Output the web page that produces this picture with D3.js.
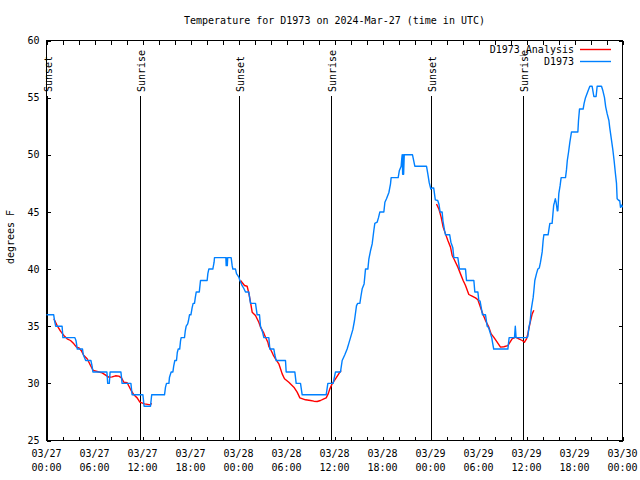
<!DOCTYPE html>
<html><head><meta charset="utf-8">
<script src="https://cdn.jsdelivr.net/npm/d3@7"></script>
<style>
body{margin:0;background:#fff}
svg{display:block}
text{font-family:"DejaVu Sans Mono","Liberation Mono",monospace;font-size:10px;fill:#000}
</style>
</head><body><svg id="c" width="640" height="480"></svg>
<script>
// ---- data (hours since 2024-03-27 00:00 UTC, degrees F) ----
const stationSeries = [
[0,36],[0.9,36],[1.0,35.5],[1.15,35],[1.95,35],[2.05,34],[3.55,34],[3.7,33.7],[3.85,33],[4.5,33],[4.6,32.5],[4.9,32],[5.55,32],[5.7,31.5],[5.8,31],[7.55,31],[7.65,30],[7.85,30],[7.95,31],[9.3,31],[9.45,30],[10.55,30],[10.7,29],[12.05,29],[12.2,28],[13.0,28],[13.15,29],[14.75,29],[14.875,29.67],[15.0,30],[15.3,30],[15.375,30.54],[15.58,31],[15.8,31],[15.9,31.5],[16.04,32],[16.25,32],[16.35,32.7],[16.46,33],[16.65,33],[16.75,33.7],[16.83,34],[17.25,34],[17.35,34.6],[17.46,35],[17.65,35.2],[17.75,35.5],[17.875,36],[18.05,36],[18.2,36.6],[18.33,37],[18.5,37],[18.6,37.5],[18.72,38],[19.1,38],[19.25,39],[20.08,39],[20.17,39.6],[20.29,40],[20.79,40],[20.95,40.6],[21.0,41],[22.25,41],[22.42,41],[22.46,40.3],[22.5,40.3],[22.54,41],[22.6,40.3],[22.65,41],[23.08,41],[23.21,40.3],[23.29,40],[23.625,40],[23.75,39.6],[24.04,39.3],[24.17,39],[24.3,38.8],[24.42,38.6],[24.67,38.3],[24.875,38],[25.29,38],[25.5,37],[26.125,37],[26.33,36],[26.625,36],[26.75,35],[27.0,34.5],[27.17,34],[27.79,34],[27.92,33],[28.42,33],[28.54,32.5],[28.71,32],[29.875,32],[29.96,31],[31.04,31],[31.21,30],[31.75,30],[31.96,29],[34.96,29],[35.17,30],[35.83,30],[36.125,31],[36.75,31],[36.96,32],[37.29,32.5],[37.58,33],[37.79,33.5],[38.0,34],[38.29,34.7],[38.5,35.5],[38.75,36.8],[38.9,37],[39.17,37],[39.3,37.6],[39.46,38.27],[39.7,38.7],[39.875,40],[40.17,40],[40.3,40.9],[40.5,41.6],[40.71,42.2],[40.92,43.4],[41.04,44],[41.33,44.1],[41.5,44.5],[41.67,45],[42.17,45],[42.3,45.85],[42.5,46.15],[42.8,46.7],[43.0,47.46],[43.08,48],[43.96,48],[44.1,48.6],[44.33,49],[44.4,49.6],[44.46,50],[44.52,48.3],[44.58,50],[44.64,48.3],[44.72,50],[45.75,50],[46.04,49],[47.5,49],[47.67,48.3],[47.83,47.6],[48.04,47],[48.2,47.1],[48.4,47.1],[48.6,46.06],[48.9,46],[49.05,45.7],[49.2,45],[49.45,45],[49.55,44.25],[49.75,43.4],[49.875,43],[50.4,43],[50.55,42.35],[50.79,41.86],[50.92,41],[51.42,41],[51.625,40],[52.375,40],[52.5,39],[53.42,39],[53.54,38],[53.92,38],[54.04,37.25],[54.2,37.2],[54.5,36],[54.875,36],[55.08,35],[55.25,34.9],[55.5,34.33],[55.65,34],[55.9,33],[57.67,33],[57.83,34],[58.5,34],[58.6,35],[58.7,34],[60.08,34],[60.17,34.1],[60.3,34.9],[60.45,35.35],[60.58,36.4],[60.83,37.5],[60.92,38.1],[61.04,39],[61.25,39.6],[61.42,40],[61.6,40.1],[61.75,40.6],[61.96,41.5],[62.08,42.5],[62.17,43],[62.7,43],[62.85,43.7],[62.92,44],[63.2,44],[63.3,44.8],[63.4,45.6],[63.5,45.85],[63.6,46.15],[63.7,45.85],[63.85,45.1],[63.92,45.1],[64.04,46.6],[64.2,47.3],[64.33,48],[64.875,48],[65.0,48.7],[65.1,49.5],[65.25,50.2],[65.42,51.1],[65.625,52],[66.42,52],[66.5,53],[66.625,54],[67.08,54],[67.2,54.5],[67.375,55],[67.7,55.6],[67.92,56],[68.2,56],[68.42,55.1],[68.7,55.1],[68.83,56],[69.375,56],[69.55,55.6],[69.75,55],[69.9,54.2],[70.08,53.6],[70.3,53],[70.4,52.4],[70.58,51.5],[70.8,50.4],[70.95,49.5],[71.125,48.3],[71.25,47.5],[71.33,46.15],[71.54,46],[71.65,46],[71.75,45.4],[71.9,45.6],[72,45.4]
];
const analysisNight1 = [
[0.92,35.65],[1.33,35.06],[1.75,34.57],[2.17,34.19],[2.58,33.9],[3.0,33.75],[3.42,33.46],[3.75,33.17],[4.04,33.11],[4.33,32.88],[4.67,32.44],[5.08,32.15],[5.5,31.56],[5.83,31.13],[6.33,31.04],[6.96,30.92],[7.58,30.63],[7.79,30.54],[8.21,30.57],[8.625,30.66],[9.04,30.63],[9.375,30.48],[9.67,30.1],[10.08,30.05],[10.58,29.375],[10.92,29.0],[11.33,28.73],[11.67,28.35],[12.25,28.2],[13.0,28.12],[13.125,28.27]
];
const analysisNight2 = [
[24.25,39.0],[24.75,38.56],[25.08,38.5],[25.29,37.89],[25.5,37.1],[25.71,36.23],[26.125,35.94],[26.54,35.35],[26.75,34.92],[27.17,34.39],[27.375,34.04],[27.67,33.6],[27.79,33.23],[28.08,32.875],[28.33,32.5],[28.625,32.15],[29.04,31.71],[29.25,31.27],[29.46,30.83],[29.75,30.4],[30.29,30.1],[30.92,29.67],[31.33,29.23],[31.67,28.73],[32.375,28.56],[33.0,28.5],[33.42,28.44],[33.83,28.41],[34.25,28.5],[34.67,28.65],[34.96,28.73],[35.21,29.08],[35.42,29.52],[35.71,29.96],[36.125,30.4],[36.67,30.98],[36.83,31.125]
];
const analysisNight3 = [
[48.75,45.7],[49.04,45.27],[49.33,44.54],[49.58,43.67],[49.875,43.08],[50.17,42.5],[50.5,41.92],[50.71,41.19],[50.92,40.9],[51.125,40.6],[51.42,40.17],[51.75,39.58],[52.08,39.0],[52.375,38.56],[52.79,37.775],[53.2,37.63],[53.625,37.48],[53.92,37.31],[54.17,36.81],[54.46,36.23],[54.875,35.5],[55.29,34.92],[55.58,34.33],[55.9,34.04],[56.33,33.6],[56.75,33.17],[57.17,33.2],[57.67,33.3],[58.2,33.9],[58.625,34.04],[59.04,33.9],[59.46,33.75],[59.75,33.6],[60.0,33.9],[60.17,34.33],[60.4,35.15],[60.71,36.08],[60.92,36.4]
];
const sunsetHours = [0.125, 24.125, 48.125];
const sunriseHours = [11.75, 35.625, 59.625];
const xTickHours = d3.range(0, 73, 2);
const xLabelHours = [0,6,12,18,24,30,36,42,48,54,60,66,72];
const xLabelDates = ["03/27","03/27","03/27","03/27","03/28","03/28","03/28","03/28","03/29","03/29","03/29","03/29","03/30"];
const xLabelTimes = ["00:00","06:00","12:00","18:00","00:00","06:00","12:00","18:00","00:00","06:00","12:00","18:00","00:00"];
const yTicks = [25,30,35,40,45,50,55,60];
const titleText = "Temperature for D1973 on 2024-Mar-27 (time in UTC)";
const seriesNames = ["D1973_Analysis","D1973"];
const seriesColors = ["#ff0000","#0080ff"];

// ---- drawing ----
const svg = d3.select("#c");
const L=46.5, R=622.5, T=40.5, B=440.5;
const x = d3.scaleLinear().domain([0,72]).range([L,R]);
const y = d3.scaleLinear().domain([25,60]).range([B,T]);

svg.append("rect").attr("width",640).attr("height",480).attr("fill","#fff");

// axes ticks (inward, mirrored)
const ax = (g)=>g.selectAll(".domain").remove();
svg.append("g").attr("transform",`translate(0,${B})`)
  .call(d3.axisBottom(x).tickValues(xTickHours).tickSize(-4).tickFormat(""))
  .call(ax);
svg.append("g").attr("transform",`translate(0,${T})`)
  .call(d3.axisTop(x).tickValues(xTickHours).tickSize(-4).tickFormat(""))
  .call(ax);
svg.append("g").attr("transform",`translate(${L},0)`)
  .call(d3.axisLeft(y).tickValues(yTicks).tickSize(-4).tickPadding(7).tickFormat(d3.format("d")))
  .call(ax);
svg.append("g").attr("transform",`translate(${R},0)`)
  .call(d3.axisRight(y).tickValues(yTicks).tickSize(-4).tickFormat(""))
  .call(ax);
svg.selectAll(".tick line").attr("stroke","#000").attr("shape-rendering","crispEdges");
svg.selectAll(".tick text").style("font-family",'"DejaVu Sans Mono",monospace').style("font-size","10px").attr("fill","#000");

// x labels (two lines)
const xl = svg.append("g");
xl.selectAll("text.d").data(xLabelHours).join("text").attr("class","d")
  .attr("x",d=>x(d)).attr("y",457).attr("text-anchor","middle").text((d,i)=>xLabelDates[i]);
xl.selectAll("text.t").data(xLabelHours).join("text").attr("class","t")
  .attr("x",d=>x(d)).attr("y",471).attr("text-anchor","middle").text((d,i)=>xLabelTimes[i]);

// border
svg.append("rect").attr("x",L).attr("y",T).attr("width",R-L).attr("height",B-T)
  .attr("fill","none").attr("stroke","#000").attr("shape-rendering","crispEdges");

// title & y label
svg.append("text").attr("x",(L+R)/2).attr("y",24).attr("text-anchor","middle").text(titleText);
svg.append("text").attr("transform","translate(14,237) rotate(-90)").attr("text-anchor","middle").text("degrees F");

// sunrise / sunset markers
const events = sunsetHours.map(h=>({h,label:"Sunset"})).concat(sunriseHours.map(h=>({h,label:"Sunrise"})));
const ev = svg.append("g");
ev.selectAll("line").data(events).join("line")
  .attr("x1",d=>x(d.h)).attr("x2",d=>x(d.h)).attr("y1",96).attr("y2",B)
  .attr("stroke","#000").attr("stroke-width",1.2).attr("shape-rendering","crispEdges");
ev.selectAll("text").data(events).join("text")
  .attr("transform",d=>`translate(${x(d.h)+4.5},92) rotate(-90)`).text(d=>d.label);

// data lines
const line = d3.line().x(d=>x(d[0])).y(d=>y(d[1]));
[analysisNight1, analysisNight2, analysisNight3].forEach(seg=>{
  svg.append("path").datum(seg).attr("d",line).attr("fill","none")
    .attr("stroke",seriesColors[0]).attr("stroke-width",1.4).attr("stroke-linejoin","round");
});
svg.append("path").datum(stationSeries).attr("d",line).attr("fill","none")
  .attr("stroke",seriesColors[1]).attr("stroke-width",1.4).attr("stroke-linejoin","round");

// legend
const lg = svg.append("g");
seriesNames.forEach((n,i)=>{
  const ly = 49.5 + i*12;
  lg.append("text").attr("x",574).attr("y",ly+3.5).attr("text-anchor","end").text(n);
  lg.append("line").attr("x1",580).attr("x2",611).attr("y1",ly).attr("y2",ly)
    .attr("stroke",seriesColors[i]).attr("stroke-width",1.4);
});
</script></body></html>
